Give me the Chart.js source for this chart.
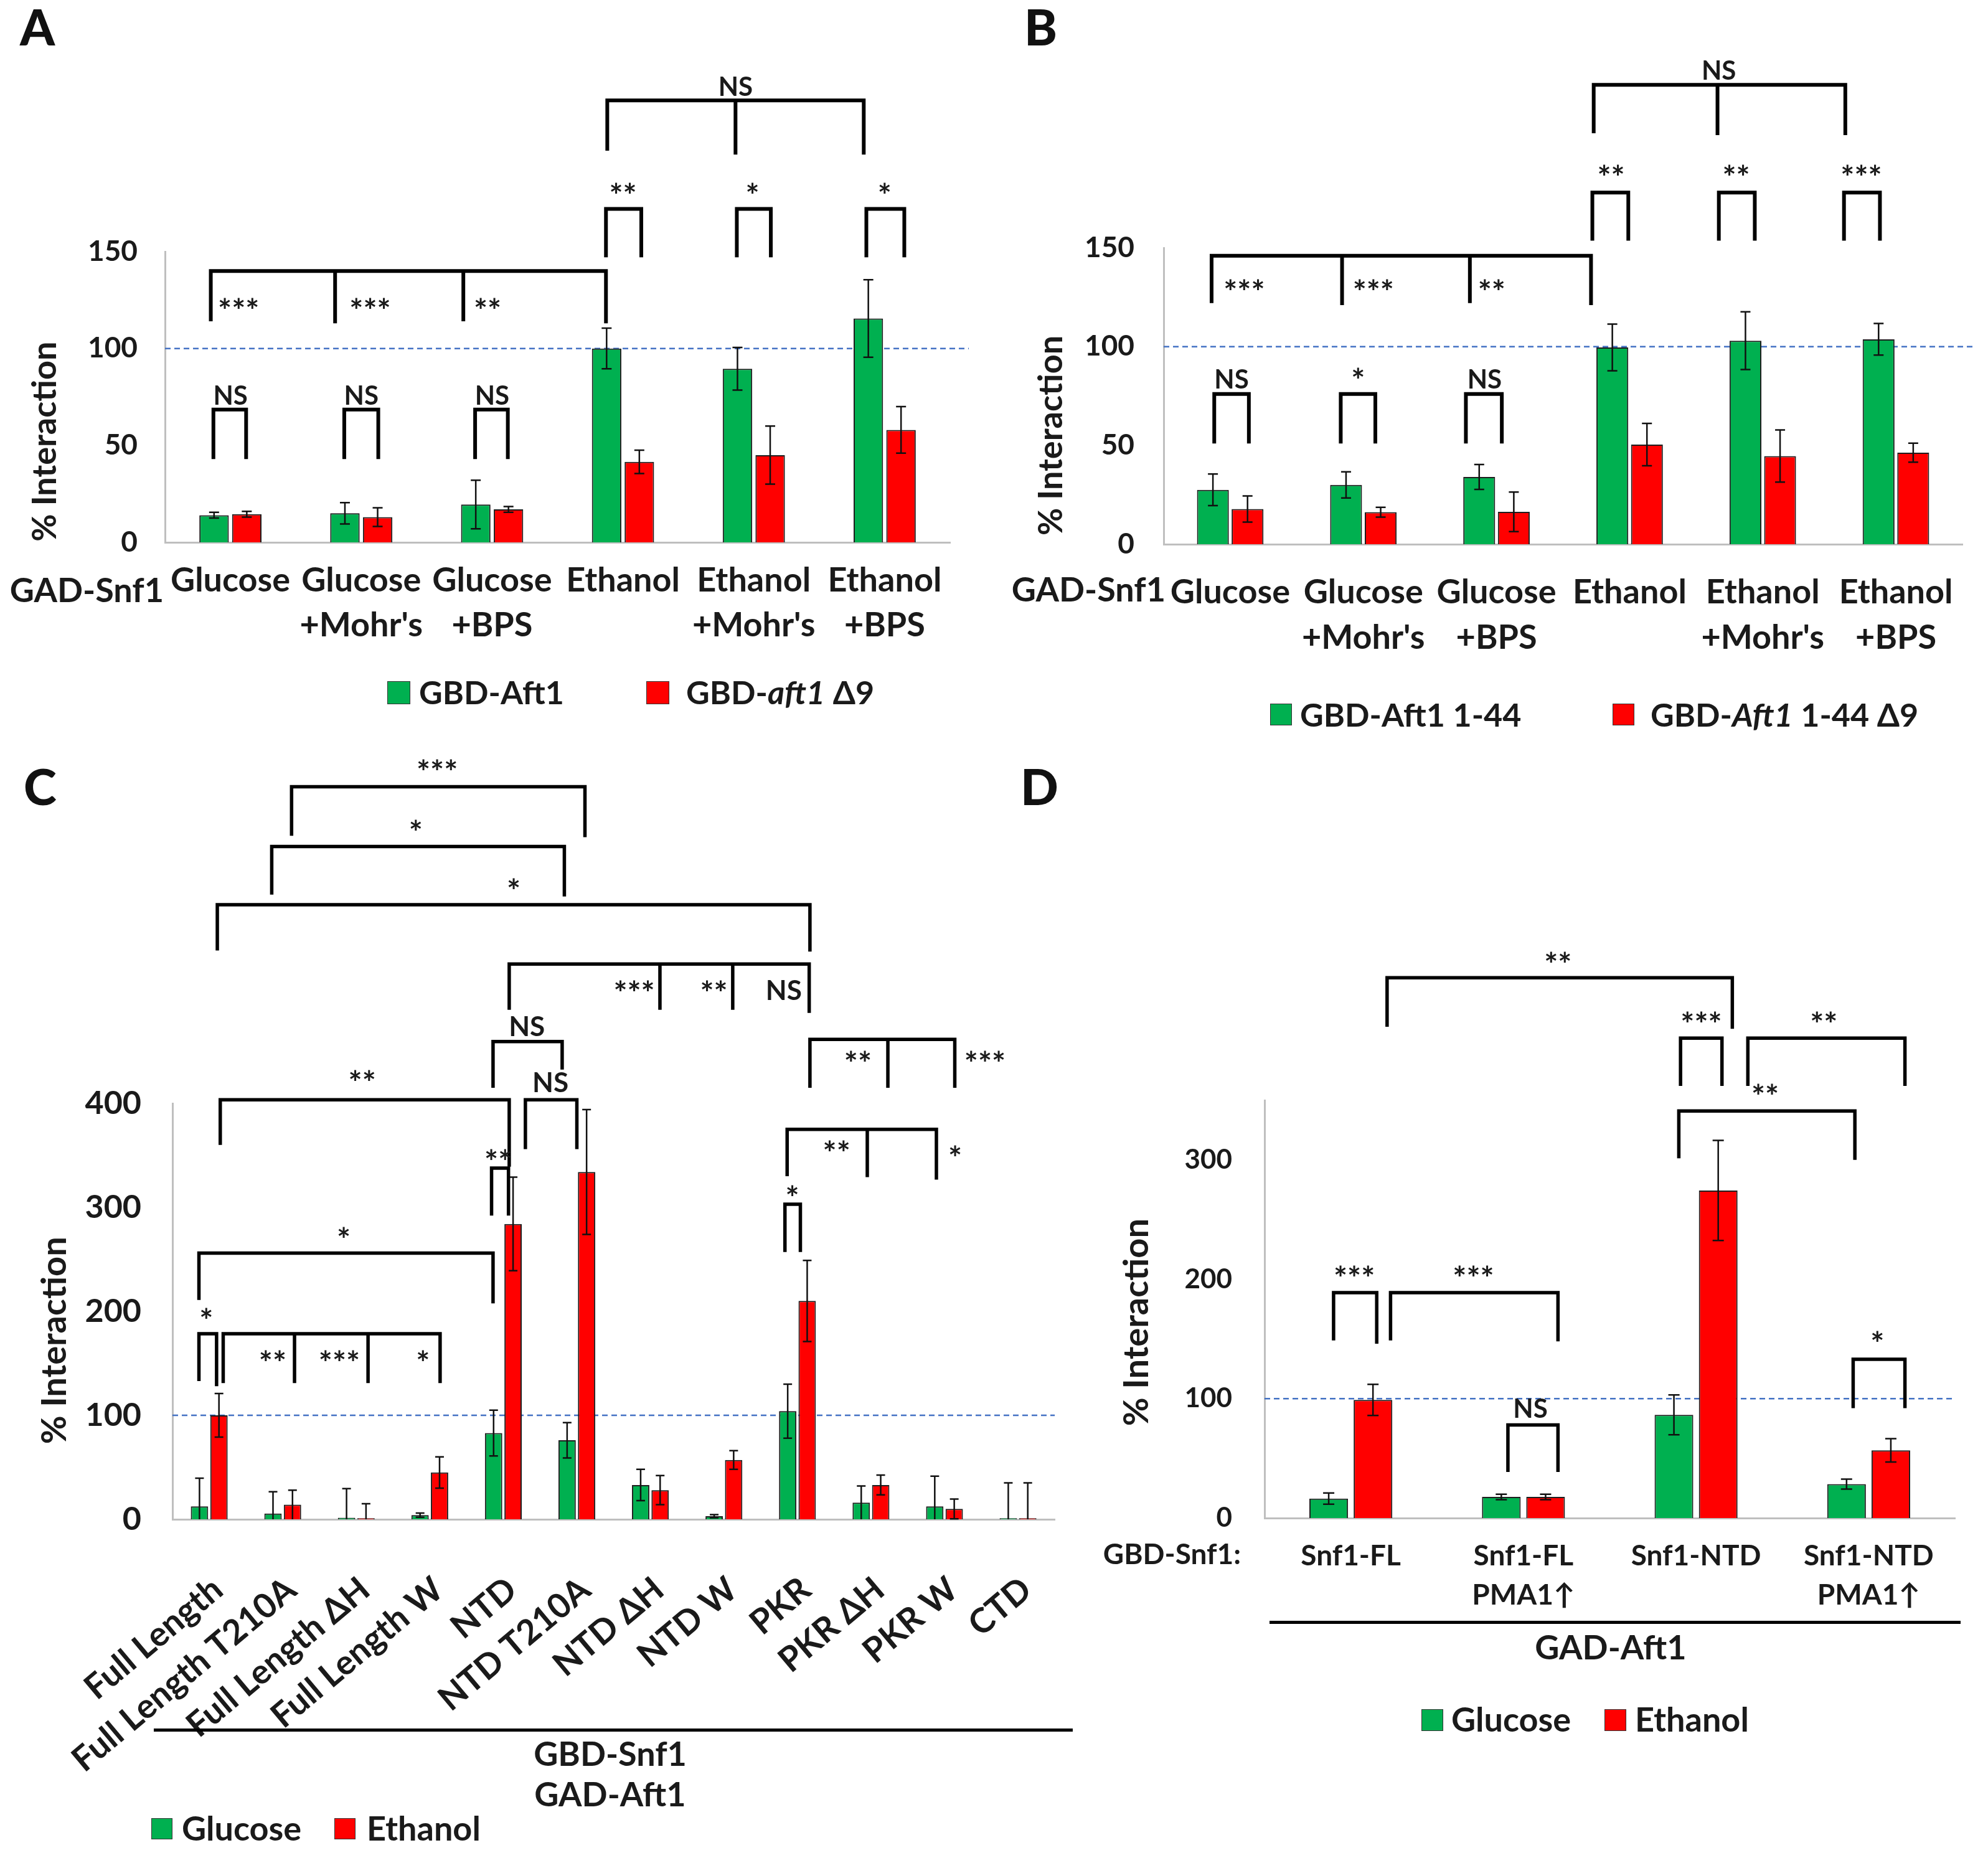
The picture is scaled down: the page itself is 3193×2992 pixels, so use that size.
<!DOCTYPE html>
<html>
<head>
<meta charset="utf-8">
<script src="https://cdn.jsdelivr.net/npm/chart.js@4.4.1/dist/chart.umd.min.js"></script>
<style>
  body { margin: 0; background: #fff; width: 3193px; height: 2992px; position: relative; overflow: hidden;
         font-family: Lato, sans-serif; font-weight: bold; color: #1a1a1a; }
  .abs { position: absolute; white-space: nowrap; line-height: 1; }
  .letter { font-size: 80px; font-weight: 900; color: #111; }
  .box { position: absolute; border: 1px solid #333; box-sizing: border-box; }
  .rule { position: absolute; background: #000; }
  .ctr { text-align: center; width: 600px; }
</style>
</head>
<body>

<div class="abs letter" style="left:32px;top:2px">A</div>
<div class="abs letter" style="left:1645px;top:2px">B</div>
<div class="abs letter" style="left:38px;top:1222px">C</div>
<div class="abs letter" style="left:1639px;top:1222px">D</div>

<canvas id="chartA" width="1600" height="1180" style="position:absolute;left:0;top:0"></canvas>
<canvas id="chartB" width="1593" height="1200" style="position:absolute;left:1600px;top:0"></canvas>
<canvas id="chartC" width="1760" height="1812" style="position:absolute;left:0;top:1180px"></canvas>
<canvas id="chartD" width="1433" height="1400" style="position:absolute;left:1760px;top:1400px"></canvas>

<!-- legends -->
<div class="box" style="left:622px;top:1094px;width:37px;height:37px;background:#00B050"></div>
<div class="abs" style="left:673px;top:1085px;font-size:52px">GBD-Aft1</div>
<div class="box" style="left:1038px;top:1094px;width:37px;height:37px;background:#FF0000"></div>
<div class="abs" style="left:1102px;top:1085px;font-size:52px">GBD-<i>aft1</i> Δ9</div>

<div class="box" style="left:2040px;top:1130px;width:35px;height:35px;background:#00B050"></div>
<div class="abs" style="left:2088px;top:1121px;font-size:52px">GBD-Aft1 1-44</div>
<div class="box" style="left:2590px;top:1130px;width:35px;height:35px;background:#FF0000"></div>
<div class="abs" style="left:2651px;top:1121px;font-size:52px">GBD-<i>Aft1</i> 1-44 Δ9</div>

<div class="box" style="left:243px;top:2920px;width:34px;height:34px;background:#00B050"></div>
<div class="abs" style="left:292px;top:2909px;font-size:54px">Glucose</div>
<div class="box" style="left:537px;top:2920px;width:34px;height:34px;background:#FF0000"></div>
<div class="abs" style="left:589px;top:2909px;font-size:54px">Ethanol</div>

<div class="box" style="left:2283px;top:2745px;width:35px;height:35px;background:#00B050"></div>
<div class="abs" style="left:2331px;top:2734px;font-size:54px">Glucose</div>
<div class="box" style="left:2577px;top:2745px;width:35px;height:35px;background:#FF0000"></div>
<div class="abs" style="left:2626px;top:2734px;font-size:54px">Ethanol</div>

<!-- group captions under C and D -->
<div class="rule" style="left:247px;top:2776px;width:1476px;height:5px"></div>
<div class="abs ctr" style="left:680px;top:2789px;font-size:54px">GBD-Snf1</div>
<div class="abs ctr" style="left:680px;top:2854px;font-size:54px">GAD-Aft1</div>
<div class="rule" style="left:2039px;top:2603px;width:1110px;height:5px"></div>
<div class="abs ctr" style="left:2287px;top:2618px;font-size:54px">GAD-Aft1</div>

<script>
// ---- panel A: GAD-Snf1 vs GBD-Aft1 / GBD-aft1 delta9 ----
const abLabels = [['Glucose'], ['Glucose', "+Mohr's"], ['Glucose', '+BPS'], ['Ethanol'], ['Ethanol', "+Mohr's"], ['Ethanol', '+BPS']];
const aGreen = [14, 15, 19.5, 100, 89.5, 115.5];
const aGreenErr = [1.5, 5.5, 12.5, 10.5, 11, 20];
const aRed = [14.5, 13, 17, 41.5, 45, 58];
const aRedErr = [1.5, 4.8, 1.5, 6, 15, 12];

// ---- panel B: GBD-Aft1 1-44 ----
const bGreen = [27.5, 30, 34, 99.6, 103, 103.7];
const bGreenErr = [8, 6.6, 6.3, 11.8, 14.6, 8];
const bRed = [17.8, 16.2, 16.4, 50.4, 44.6, 46.3];
const bRedErr = [6.6, 2.5, 10, 10.7, 13.2, 4.8];

// ---- panel C: Snf1 domains ----
const cLabels = ['Full Length', 'Full Length T210A', 'Full Length ΔH', 'Full Length W', 'NTD', 'NTD T210A',
                 'NTD ΔH', 'NTD W', 'PKR', 'PKR ΔH', 'PKR W', 'CTD'];
const cGlucose = [12.5, 5.5, 1.5, 4, 83, 76, 33, 3, 104, 16, 12.5, 1];
const cGlucoseErr = [27, 21, 28, 2, 22, 17, 15, 1.5, 26, 16, 29, 34];
const cEthanol = [100, 14, 1, 45, 284, 334, 28, 57, 210, 33, 10, 1];
const cEthanolErr = [21, 14, 14, 15, 45, 60, 14, 9, 39, 9.5, 9.5, 34];

// ---- panel D: PMA1 overexpression ----
const dLabels = ['Snf1-FL', ['Snf1-FL', 'PMA1↑'], 'Snf1-NTD', ['Snf1-NTD', 'PMA1↑']];
const dGlucose = [16.3, 17.7, 86.5, 28.4];
const dGlucoseErr = [4.7, 2.3, 16.7, 4.2];
const dEthanol = [99, 17.7, 274.4, 56.7];
const dEthanolErr = [13, 2.3, 41.9, 9.8];

// significance brackets: legs are [category index (fractional), value at leg foot], top = value of the bar
const aBrackets = [
  {legs: [[-0.13, 43], [0.12, 43]], top: 68.5},
  {legs: [[0.87, 43], [1.13, 43]], top: 68.5},
  {legs: [[1.87, 43], [2.12, 43]], top: 68.5},
  {legs: [[-0.15, 114], [0.8, 113], [1.78, 114], [2.87, 113]], top: 140},
  {legs: [[2.87, 147], [3.14, 147]], top: 172},
  {legs: [[3.87, 147], [4.13, 147]], top: 172},
  {legs: [[4.86, 147], [5.15, 147]], top: 172},
  {legs: [[2.88, 202], [3.86, 200], [4.84, 200]], top: 228}
];
// [index, value, text, align]
const aSig = [
  [0, 76, 'NS', 'c'], [1, 76, 'NS', 'c'], [2, 76, 'NS', 'c'],
  [-0.095, 122.7, '***', 'l'], [0.91, 122.7, '***', 'l'], [1.86, 122.7, '**', 'l'],
  [3.0, 182, '**', 'c'], [3.99, 182, '*', 'c'], [5.0, 182, '*', 'c'],
  [3.86, 235, 'NS', 'c']
];
const bBrackets = [
  {legs: [[-0.12, 51], [0.14, 51]], top: 76},
  {legs: [[0.83, 51], [1.09, 51]], top: 76},
  {legs: [[1.77, 51], [2.04, 51]], top: 76},
  {legs: [[-0.14, 122], [0.84, 121], [1.8, 122], [2.71, 121]], top: 146},
  {legs: [[2.72, 153.6], [2.99, 153.6]], top: 178},
  {legs: [[3.67, 153.6], [3.94, 153.6]], top: 178},
  {legs: [[4.61, 153.6], [4.88, 153.6]], top: 178},
  {legs: [[2.73, 208], [3.66, 207], [4.62, 207]], top: 232.5}
];
const bSig = [
  [0.01, 83.7, 'NS', 'c'], [0.96, 86, '*', 'c'], [1.91, 83.7, 'NS', 'c'],
  [-0.05, 130.7, '***', 'l'], [0.92, 130.7, '***', 'l'], [1.86, 130.7, '**', 'l'],
  [2.86, 188.6, '**', 'c'], [3.8, 188.6, '**', 'c'], [4.74, 188.6, '***', 'c'],
  [3.67, 240, 'NS', 'c']
];
const cBrackets = [
  {legs: [[-0.14, 133], [0.1, 128]], top: 178.5},
  {legs: [[0.19, 131], [1.16, 131], [2.16, 131], [3.14, 131]], top: 178.5},
  {legs: [[-0.14, 211], [3.86, 207.6]], top: 256},
  {legs: [[3.84, 292], [4.07, 292]], top: 337.7},
  {legs: [[0.15, 360], [4.08, 339]], top: 403.5},
  {legs: [[4.3, 356], [5.0, 356]], top: 403.5},
  {legs: [[3.86, 415], [4.8, 432.5]], top: 459.5},
  {legs: [[4.08, 490], [6.13, 490], [7.12, 490], [8.16, 487]], top: 534},
  {legs: [[0.11, 547], [8.17, 546]], top: 591},
  {legs: [[0.85, 600.7], [4.83, 599]], top: 647},
  {legs: [[1.12, 657.4], [5.11, 656]], top: 704.5},
  {legs: [[7.83, 257], [8.04, 257]], top: 303},
  {legs: [[7.86, 330], [8.95, 329], [9.89, 326.6]], top: 375},
  {legs: [[8.17, 415], [9.23, 415], [10.14, 415]], top: 461.6}
];
const cSig = [
  [-0.04, 197, '*', 'c'],
  [1.05, 156, '**', 'r'], [2.05, 156, '***', 'r'], [3.0, 156, '*', 'r'],
  [1.83, 274.7, '*', 'c'],
  [3.93, 349.5, '**', 'c'],
  [2.08, 425.6, '**', 'c'],
  [4.64, 420, 'NS', 'c'],
  [4.32, 474, 'NS', 'c'],
  [6.06, 512, '***', 'r'], [7.05, 512, '**', 'r'], [8.06, 509, 'NS', 'r'],
  [4.14, 610, '*', 'c'],
  [2.81, 666, '*', 'c'],
  [3.1, 724.5, '***', 'c'],
  [7.93, 315, '*', 'c'],
  [8.72, 357.8, '**', 'r'], [10.05, 353, '*', 'l'],
  [9.01, 444, '**', 'r'], [10.27, 444, '***', 'l']
];
const dBrackets = [
  {legs: [[-0.1, 148.8], [0.15, 146]], top: 188.8},
  {legs: [[0.23, 148.8], [1.2, 148]], top: 188.8},
  {legs: [[0.91, 38.6], [1.2, 38.6]], top: 78},
  {legs: [[0.21, 411.6], [2.21, 409.8]], top: 452.6},
  {legs: [[1.91, 362], [2.15, 362]], top: 402},
  {legs: [[2.3, 362], [3.21, 362]], top: 402},
  {legs: [[1.9, 301.4], [2.92, 300]], top: 341},
  {legs: [[2.91, 92], [3.21, 92]], top: 133}
];
const dSig = [
  [0.02, 206, '***', 'c'], [0.71, 206, '***', 'c'], [1.04, 92, 'NS', 'c'], [1.2, 468.8, '**', 'c'],
  [2.03, 418.6, '***', 'c'], [2.74, 418.6, '**', 'c'], [2.4, 358, '**', 'c'], [3.05, 151, '*', 'c']
];

const GREEN = '#00B050';
const RED = '#FF0000';
const FONT = 'Lato';

// draws the 100% reference line, error bars, brackets, stars and the axis captions
function makeAnnot(o) {
  return {
    id: 'annot',
    beforeDatasetsDraw(chart) {
      const {ctx, chartArea: area, scales: {y}} = chart;
      const py = y.getPixelForValue(100);
      ctx.save();
      ctx.strokeStyle = '#4472C4';
      ctx.lineWidth = 2.5;
      ctx.setLineDash([9, 6]);
      ctx.beginPath();
      ctx.moveTo(area.left, py);
      ctx.lineTo(area.right + o.dashExtend, py);
      ctx.stroke();
      ctx.restore();
    },
    afterDatasetsDraw(chart) {
      const {ctx, scales: {y}} = chart;
      ctx.save();
      ctx.strokeStyle = '#111';
      ctx.lineWidth = 2.5;
      chart.data.datasets.forEach((ds, i) => {
        chart.getDatasetMeta(i).data.forEach((bar, j) => {
          const v = ds.data[j], e = ds.errors[j];
          const hi = y.getPixelForValue(v + e);
          const lo = y.getPixelForValue(Math.max(0, v - e));
          ctx.beginPath();
          ctx.moveTo(bar.x, lo); ctx.lineTo(bar.x, hi);
          ctx.moveTo(bar.x - o.cap, hi); ctx.lineTo(bar.x + o.cap, hi);
          if (v - e > 0) { ctx.moveTo(bar.x - o.cap, lo); ctx.lineTo(bar.x + o.cap, lo); }
          ctx.stroke();
        });
      });
      ctx.restore();
    },
    afterDraw(chart) {
      const {ctx, chartArea: area, scales: {x, y}} = chart;
      ctx.save();
      ctx.strokeStyle = '#000';
      ctx.lineWidth = o.bw;
      ctx.lineJoin = 'miter';
      o.brackets.forEach(b => {
        const top = y.getPixelForValue(b.top);
        const first = b.legs[0], last = b.legs[b.legs.length - 1];
        ctx.beginPath();
        ctx.moveTo(x.getPixelForValue(first[0]), y.getPixelForValue(first[1]));
        ctx.lineTo(x.getPixelForValue(first[0]), top);
        ctx.lineTo(x.getPixelForValue(last[0]), top);
        ctx.lineTo(x.getPixelForValue(last[0]), y.getPixelForValue(last[1]));
        for (let k = 1; k < b.legs.length - 1; k++) {
          ctx.moveTo(x.getPixelForValue(b.legs[k][0]), top);
          ctx.lineTo(x.getPixelForValue(b.legs[k][0]), y.getPixelForValue(b.legs[k][1]));
        }
        ctx.stroke();
      });

      ctx.fillStyle = '#1a1a1a';
      ctx.textBaseline = 'alphabetic';
      o.sig.forEach(([i, v, t, al]) => {
        ctx.textAlign = al === 'l' ? 'left' : al === 'r' ? 'right' : 'center';
        const stars = /^\*+$/.test(t);
        const size = stars ? o.starFont : o.sigFont;
        ctx.font = 'bold ' + size + 'px ' + FONT;
        ctx.fillText(t, x.getPixelForValue(i), y.getPixelForValue(v) + (stars ? 0.55 : 0.36) * size);
      });

      // y axis caption
      ctx.save();
      ctx.translate(area.left + o.titleDX, y.getPixelForValue(o.titleValue));
      ctx.rotate(-Math.PI / 2);
      ctx.font = 'bold ' + o.titleFont + 'px ' + FONT;
      ctx.textAlign = 'center';
      ctx.textBaseline = 'middle';
      ctx.fillText('% Interaction', 0, 0);
      ctx.restore();

      if (o.leftLabel) {
        ctx.font = 'bold ' + o.xFont + 'px ' + FONT;
        ctx.textAlign = 'right';
        ctx.textBaseline = 'middle';
        ctx.fillText(o.leftLabel, area.left + o.leftDX, area.bottom + o.leftDY);
      }
      ctx.restore();
    }
  };
}

function barChart(id, labels, series, o) {
  return new Chart(document.getElementById(id), {
    type: 'bar',
    data: {
      labels: labels,
      datasets: series.map(s => ({
        label: s.label, data: s.data, errors: s.err,
        backgroundColor: s.color, borderColor: '#1e1e1e', borderWidth: 2,
        categoryPercentage: o.catPct, barPercentage: o.barPct
      }))
    },
    options: {
      responsive: false,
      devicePixelRatio: 1,
      animation: false,
      layout: {padding: o.pad},
      plugins: {legend: {display: false}, tooltip: {enabled: false}},
      scales: {
        x: {
          grid: {display: false, drawTicks: false},
          border: {color: '#bfbfbf', width: 3},
          ticks: {
            color: '#1a1a1a', autoSkip: false, padding: o.xPad, labelOffset: o.xShift || 0,
            maxRotation: o.rot, minRotation: o.rot,
            font: {family: FONT, weight: 'bold', size: o.xFont, lineHeight: o.xLine}
          },
          afterFit: s => { s.height = o.xH; }
        },
        y: {
          min: 0, max: o.max,
          grid: {display: false, drawTicks: false},
          border: {color: '#bfbfbf', width: 3},
          ticks: {stepSize: o.step, color: '#1a1a1a', padding: o.yPad,
                  font: {family: FONT, weight: 'bold', size: o.yFont}},
          afterFit: s => { s.width = o.yW; },
          afterBuildTicks: s => { if (o.yTicks) s.ticks = o.yTicks.map(v => ({value: v})); }
        }
      }
    },
    plugins: [makeAnnot(o)]
  });
}

barChart('chartA', abLabels, [
  {label: 'GBD-Aft1', data: aGreen, err: aGreenErr, color: GREEN},
  {label: 'GBD-aft1 Δ9', data: aRed, err: aRedErr, color: RED}
], {
  pad: {left: 65, right: 74, top: 404, bottom: 109}, yW: 200, xH: 200, max: 150, step: 50,
  catPct: 0.5, barPct: 0.9, xFont: 54, xLine: 1.33, xPad: 26, rot: 0, yFont: 46, yPad: 44,
  cap: 8, dashExtend: 30, titleDX: -192, titleValue: 52, titleFont: 54,
  leftLabel: 'GAD-Snf1', leftDX: -2, leftDY: 79, sigFont: 42, starFont: 52, bw: 6,
  brackets: aBrackets, sig: aSig
});

barChart('chartB', abLabels, [
  {label: 'GBD-Aft1 1-44', data: bGreen, err: bGreenErr, color: GREEN},
  {label: 'GBD-Aft1 1-44 Δ9', data: bRed, err: bRedErr, color: RED}
], {
  pad: {left: 69, right: 41, top: 398, bottom: 126}, yW: 200, xH: 200, max: 150, step: 50,
  catPct: 0.52, barPct: 0.92, xFont: 54, xLine: 1.35, xPad: 41, rot: 0, yFont: 46, yPad: 47,
  cap: 8, dashExtend: 21, titleDX: -180, titleValue: 55, titleFont: 54,
  leftLabel: 'GAD-Snf1', leftDX: 3, leftDY: 75, sigFont: 42, starFont: 52, bw: 6,
  brackets: bBrackets, sig: bSig
});

barChart('chartC', cLabels, [
  {label: 'Glucose', data: cGlucose, err: cGlucoseErr, color: GREEN},
  {label: 'Ethanol', data: cEthanol, err: cEthanolErr, color: RED}
], {
  pad: {left: 77, right: 60, top: 592, bottom: 132}, yW: 200, xH: 420, max: 400, step: 100,
  catPct: 0.53, barPct: 0.89, xFont: 55, xLine: 1.2, xPad: 80, xShift: 14, rot: 40, yFont: 52, yPad: 50,
  cap: 7, dashExtend: 0, titleDX: -189, titleValue: 172, titleFont: 56,
  leftLabel: null, sigFont: 44, starFont: 52, bw: 5.5,
  brackets: cBrackets, sig: cSig
});

barChart('chartD', dLabels, [
  {label: 'Glucose', data: dGlucose, err: dGlucoseErr, color: GREEN},
  {label: 'Ethanol', data: dEthanol, err: dEthanolErr, color: RED}
], {
  pad: {left: 71, right: 53, top: 367, bottom: 162}, yW: 200, xH: 200, max: 350, step: 100, yTicks: [0, 100, 200, 300],
  catPct: 0.513, barPct: 0.873, xFont: 46, xLine: 1.37, xPad: 30, rot: 0, yFont: 44, yPad: 52,
  cap: 9, dashExtend: 0, titleDX: -205, titleValue: 164, titleFont: 56,
  leftLabel: 'GBD-Snf1:', leftDX: -38, leftDY: 59, sigFont: 42, starFont: 52, bw: 5.5,
  brackets: dBrackets, sig: dSig
});
</script>
</body>
</html>
